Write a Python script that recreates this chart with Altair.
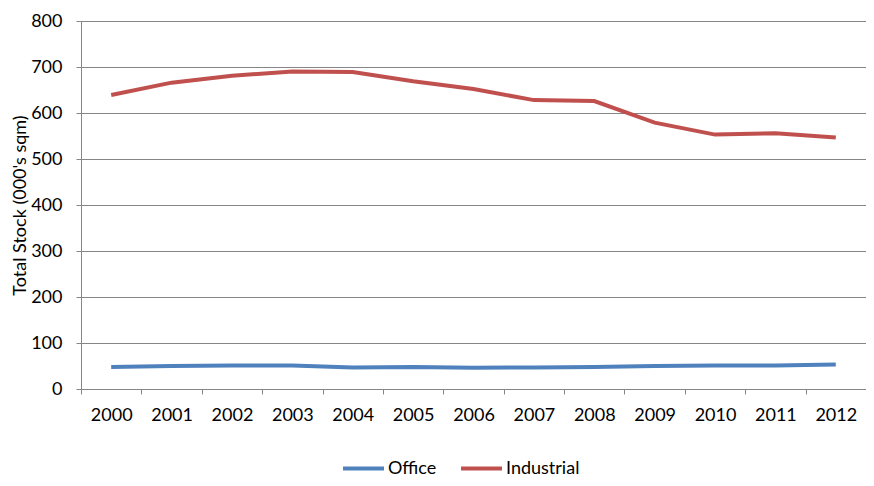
import altair as alt
import pandas as pd

years = ["2000", "2001", "2002", "2003", "2004", "2005", "2006",
         "2007", "2008", "2009", "2010", "2011", "2012"]
office = [48, 50, 51, 51, 47, 48, 46, 47, 48, 50, 51, 51, 53]
industrial = [639, 666, 681, 690, 689, 669, 652, 628, 626, 579, 553, 556, 547]

series_names = ["Office", "Industrial"]
series_colors = ["#4F81BD", "#C0504D"]

rows = []
for name, vals in zip(series_names, [office, industrial]):
    for y, v in zip(years, vals):
        rows.append({"Year": y, "Series": name, "Value": v})
df = pd.DataFrame(rows)

FONT = "Lato"

chart = alt.Chart(df).mark_line(strokeWidth=4).encode(
    x=alt.X("Year:N", sort=years, title=None,
            scale=alt.Scale(type="band", paddingInner=0, paddingOuter=0),
            axis=alt.Axis(labelAngle=0, tickBand="extent", grid=False,
                          domainColor="#868686", tickColor="#868686",
                          tickSize=5, labelPadding=12, labelFontSize=18,
                          labelColor="#000000", labelFont=FONT)),
    y=alt.Y("Value:Q", title="Total Stock (000's sqm)",
            scale=alt.Scale(domain=[0, 800], nice=False),
            axis=alt.Axis(values=list(range(0, 801, 100)), grid=True,
                          gridColor="#868686", gridWidth=1,
                          domainColor="#868686", tickColor="#868686",
                          tickSize=5, labelPadding=14, labelFontSize=18,
                          labelColor="#000000", labelFont=FONT,
                          titleFont=FONT, titleFontSize=18,
                          titleFontWeight="normal", titleColor="#000000",
                          titleX=-61, titleY=184, titleAngle=-90,
                          titleAlign="center", titleBaseline="middle")),
    color=alt.Color("Series:N", sort=series_names,
                    scale=alt.Scale(domain=series_names, range=series_colors),
                    legend=alt.Legend(title=None, orient="none",
                                      direction="horizontal",
                                      legendX=260, legendY=425,
                                      symbolType="stroke", symbolSize=1681,
                                      symbolStrokeWidth=4, labelOffset=2,
                                      columnPadding=16, gridAlign="none",
                                      labelFontSize=18,
                                      labelFont=FONT, labelColor="#000000",
                                      padding=0)),
).properties(
    width=785, height=368,
    autosize=alt.AutoSizeParams(type="none"),
    padding={"left": 73, "top": 13, "right": 0, "bottom": 89},
).configure_view(stroke=None).configure(background="#ffffff")

chart.save("out.html", embed_options={"renderer": "svg", "actions": False})
